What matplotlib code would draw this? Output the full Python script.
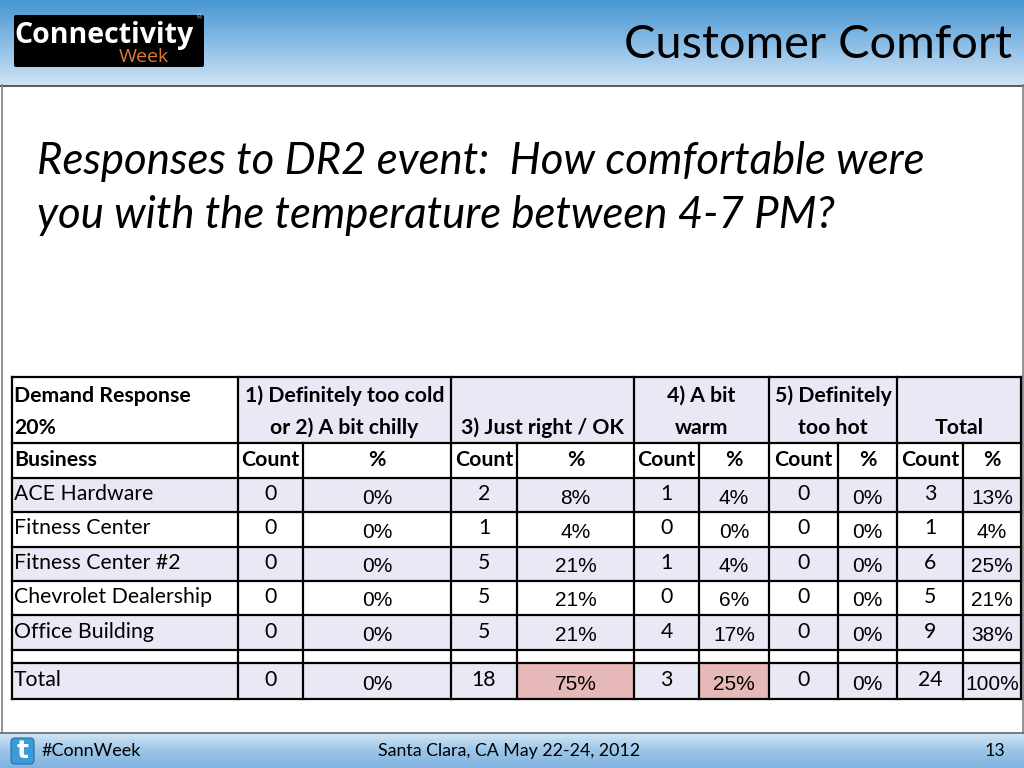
# Customer comfort slide: header band, question text and response table
import numpy as np
import matplotlib.pyplot as plt
from matplotlib.patches import Rectangle, FancyBboxPatch
from matplotlib.colors import LinearSegmentedColormap

# Table data
businesses = ["ACE Hardware", "Fitness Center", "Fitness Center #2",
              "Chevrolet Dealership", "Office Building"]
cold_count = [0, 0, 0, 0, 0]
cold_pct = [0, 0, 0, 0, 0]
ok_count = [2, 1, 5, 5, 5]
ok_pct = [8, 4, 21, 21, 21]
warm_count = [1, 0, 1, 0, 4]
warm_pct = [4, 0, 4, 6, 17]
hot_count = [0, 0, 0, 0, 0]
hot_pct = [0, 0, 0, 0, 0]
total_count = [3, 1, 6, 5, 9]
total_pct = [13, 4, 25, 21, 38]
totals_row = [0, 0, 18, 75, 3, 25, 0, 0, 24, 100]

group_labels = ["1) Definitely too cold\nor 2) A bit chilly", "3) Just right / OK",
                "4) A bit\nwarm", "5) Definitely\ntoo hot", "Total"]

title = "Customer Comfort"
question = "Responses to DR2 event:  How comfortable were\nyou with the temperature between 4-7 PM?"

# Layout (pixels)
col_x = [12, 238, 303, 451, 517, 634, 699, 769, 838, 897, 963, 1021]
row_y = [377, 443, 478, 512, 547, 581, 615, 650, 663, 699]

LAV = "#e9e9f5"
PINK = "#e6b9b8"
CAL = "Lato"
ARI = "Liberation Sans"
TS = 15.3   # table font size

fig = plt.figure(figsize=(10.24, 7.68), dpi=100)
ax = fig.add_axes([0, 0, 1, 1])
ax.set_xlim(0, 1024)
ax.set_ylim(768, 0)
ax.axis("off")

# header and footer gradients
hdr = LinearSegmentedColormap.from_list("hdr", ["#4796d2", "#89bce6", "#cfe3f3"])
ftr = LinearSegmentedColormap.from_list("ftr", ["#d3e5f4", "#9cc6e8", "#7fb3e0"])
grad = np.linspace(0, 1, 256).reshape(-1, 1)
ax.imshow(grad, cmap=hdr, extent=[0, 1024, 85, 0], aspect="auto", zorder=0)
ax.imshow(grad, cmap=ftr, extent=[0, 1024, 768, 733], aspect="auto", zorder=0)
ax.plot([0, 1024], [85.5, 85.5], color="#404040", lw=1.2)
ax.plot([1.5, 1.5], [85, 733], color="#808080", lw=1.2)
ax.plot([1022.5, 1022.5], [85, 733], color="#808080", lw=1.2)
ax.plot([0, 1024], [733, 733], color="#606880", lw=1.2)

# logo
ax.add_patch(FancyBboxPatch((14, 15), 190, 52, boxstyle="round,pad=0,rounding_size=2",
                            facecolor="black", edgecolor="none", zorder=2))
ax.text(104, 35, "Connectivity", color="white", fontsize=20.5, fontweight="bold",
        family="Open Sans", ha="center", va="center", zorder=3)
ax.text(144, 57, "Week", color="#e07a35", fontsize=14, family="Open Sans",
        ha="center", va="center", zorder=3)
ax.text(200, 17, "®", color="#bbbbbb", fontsize=5, ha="center", va="center", zorder=3)

ax.text(1012, 45, title, fontsize=33.8, family=CAL, ha="right", va="center", color="black")
for k, line in enumerate(question.split("\n")):
    ax.text(37, 162 + 53 * k, line, fontsize=31.5, family=CAL, style="italic",
            ha="left", va="center", color="black")

# footer
ax.add_patch(FancyBboxPatch((11, 738), 23, 26, boxstyle="round,pad=0,rounding_size=4",
                            facecolor="#3a9bd8", edgecolor="#2b6ea0", lw=0.8, zorder=2))
ax.text(22.5, 751, "t", color="white", fontsize=18, fontweight="bold",
        ha="center", va="center", zorder=3)
ax.text(42, 751, "#ConnWeek", fontsize=13, family=CAL, va="center", ha="left")
ax.text(509, 751, "Santa Clara, CA May 22-24, 2012", fontsize=12.8, family=CAL,
        va="center", ha="center")
ax.text(995, 751, "13", fontsize=12.8, family=CAL, va="center", ha="center")


def cell(c0, c1, r, color):
    x0, x1 = col_x[c0], col_x[c1]
    y0, y1 = row_y[r], row_y[r + 1]
    ax.add_patch(Rectangle((x0, y0), x1 - x0, y1 - y0, facecolor=color,
                           edgecolor="none", zorder=1))


# backgrounds
cell(0, 1, 0, "white")
cell(1, 11, 0, LAV)
cell(0, 11, 1, "white")
for i in range(5):
    cell(0, 11, 2 + i, LAV if i % 2 == 0 else "white")
cell(0, 11, 7, "white")
cell(0, 11, 8, LAV)
cell(4, 5, 8, PINK)
cell(6, 7, 8, PINK)

# grid lines
lw = 1.6
for r, y in enumerate(row_y):
    ax.plot([col_x[0], col_x[-1]], [y, y], color="black", lw=lw, zorder=4)
group_edges = [0, 1, 3, 5, 7, 9, 11]
for c, x in enumerate(col_x):
    top = row_y[0] if c in group_edges else row_y[1]
    ax.plot([x, x], [top, row_y[-1]], color="black", lw=lw, zorder=4)

# header text
line_y = [396, 428]
ax.text(col_x[0] + 2, line_y[0], "Demand Response", fontsize=TS, family=CAL,
        fontweight="bold", va="center", ha="left", zorder=5)
ax.text(col_x[0] + 2, line_y[1], "20%", fontsize=TS, family=CAL,
        fontweight="bold", va="center", ha="left", zorder=5)
for g, lab in enumerate(group_labels):
    c0 = group_edges[g + 1]
    c1 = group_edges[g + 2]
    xc = (col_x[c0] + col_x[c1]) / 2
    parts = lab.split("\n")
    for k, part in enumerate(parts):
        yy = line_y[k + 2 - len(parts)]
        ax.text(xc, yy, part, fontsize=TS, family=CAL, fontweight="bold",
                ha="center", va="center", zorder=5)
ax.text(col_x[0] + 2, (row_y[1] + row_y[2]) / 2, "Business", fontsize=TS, family=CAL,
        fontweight="bold", va="center", ha="left", zorder=5)
for c in range(1, 11):
    xc = (col_x[c] + col_x[c + 1]) / 2
    ax.text(xc, (row_y[1] + row_y[2]) / 2, "Count" if c % 2 == 1 else "%", fontsize=TS,
            family=CAL, fontweight="bold", ha="center", va="center", zorder=5)


def row_values(vals, r, label):
    yc = (row_y[r] + row_y[r + 1]) / 2
    ax.text(col_x[0] + 2, yc - 1, label, fontsize=TS, family=CAL, va="center",
            ha="left", zorder=5)
    for c, v in enumerate(vals):
        xc = (col_x[c + 1] + col_x[c + 2]) / 2
        if c % 2 == 0:
            ax.text(xc, yc - 1, str(v), fontsize=TS, family=CAL, ha="center",
                    va="center", zorder=5)
        else:
            ax.text(xc, yc + 3, f"{v}%", fontsize=15, family=ARI, ha="center",
                    va="center", zorder=5)


for i, b in enumerate(businesses):
    vals = [cold_count[i], cold_pct[i], ok_count[i], ok_pct[i], warm_count[i],
            warm_pct[i], hot_count[i], hot_pct[i], total_count[i], total_pct[i]]
    row_values(vals, 2 + i, b)
row_values(totals_row, 8, "Total")

fig.savefig("out.png", dpi=100)
